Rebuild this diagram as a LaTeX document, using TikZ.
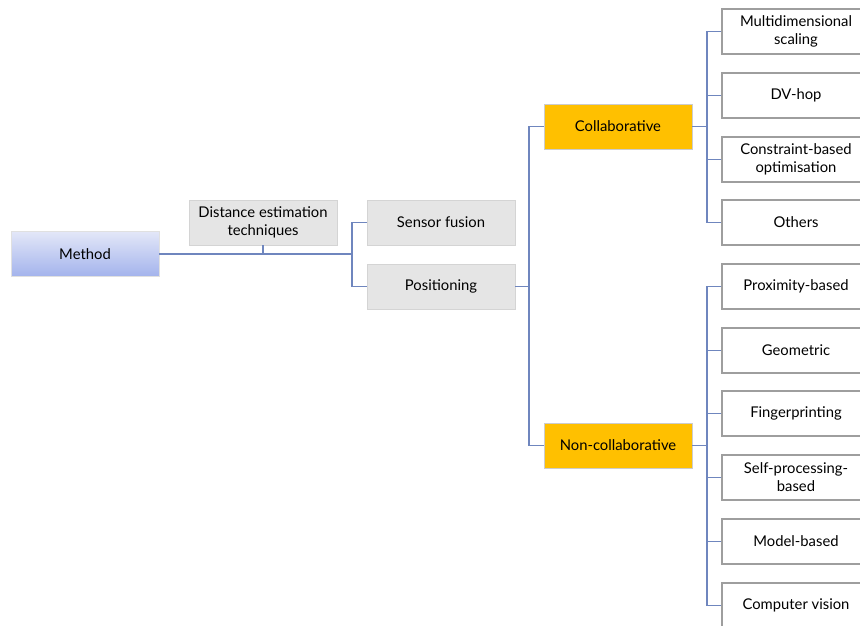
\documentclass[tikz,border=0pt]{standalone}
\usepackage{fontspec}
\setmainfont{Lato}
\begin{document}
\begin{tikzpicture}[x=1pt,y=-1pt,
  box/.style={minimum width=148pt,minimum height=45pt,inner sep=2pt,align=center,
    font=\fontsize{14.8}{18}\selectfont,line width=0.8pt},
  greybox/.style={box,fill=black!10,draw=black!17},
  goldbox/.style={box,fill=gold,draw=black!20},
  leaf/.style={box,fill=white,draw=black!38,line width=1.3pt},
  rootbox/.style={box,top color=rootTop,bottom color=rootBot,draw=black!12},
  link/.style={draw=linkc,line width=1.1pt}]
\definecolor{gold}{HTML}{FFC000}
\definecolor{linkc}{HTML}{6F86BE}
\definecolor{rootTop}{HTML}{E3E7F8}
\definecolor{rootBot}{HTML}{A3B3EC}
\clip (0,0) rectangle (860,626);
\fill[white] (0,0) rectangle (860,626);

% first levels
\node[rootbox] (method) at (85,254) {Method};
\node[greybox] (dist) at (263,222.5) {Distance estimation\\techniques};
\node[greybox] (fusion) at (441,222.5) {Sensor fusion};
\node[greybox] (pos) at (441,286.5) {Positioning};
\node[goldbox] (collab) at (618,126.5) {Collaborative};
\node[goldbox] (noncollab) at (618,445.5) {Non-collaborative};

% collaborative leaves
\node[leaf] (mds) at (796,31.5) {Multidimensional\\scaling};
\node[leaf] (dv) at (796,95.5) {DV-hop};
\node[leaf] (cbo) at (796,159.5) {Constraint-based\\optimisation};
\node[leaf] (oth) at (796,222.5) {Others};

% non-collaborative leaves
\node[leaf] (prox) at (796,286.5) {Proximity-based};
\node[leaf] (geo) at (796,350.5) {Geometric};
\node[leaf] (fing) at (796,413.5) {Fingerprinting};
\node[leaf] (self) at (796,477.5) {Self-processing-\\based};
\node[leaf] (model) at (796,541.5) {Model-based};
\node[leaf] (cv) at (796,605.5) {Computer vision};

% bus joints
\coordinate (j1) at (352,254);
\coordinate (j2) at (529,286.5);
\coordinate (j3) at (707,126.5);
\coordinate (j4) at (707,445.5);

% connectors
\draw[link] (method.east) -- (j1);
\draw[link] (dist.south) -- (dist.south |- j1);
\draw[link] (fusion.west) -| (j1) |- (pos.west);
\draw[link] (pos.east) -- (j2);
\draw[link] (collab.west) -| (j2) |- (noncollab.west);
\draw[link] (collab.east) -- (j3);
\draw[link] (mds.west) -| (j3) |- (oth.west);
\draw[link] (dv.west) -- (dv.west -| j3);
\draw[link] (cbo.west) -- (cbo.west -| j3);
\draw[link] (noncollab.east) -- (j4);
\draw[link] (prox.west) -| (j4) |- (cv.west);
\draw[link] (geo.west) -- (geo.west -| j4);
\draw[link] (fing.west) -- (fing.west -| j4);
\draw[link] (self.west) -- (self.west -| j4);
\draw[link] (model.west) -- (model.west -| j4);
\end{tikzpicture}
\end{document}
